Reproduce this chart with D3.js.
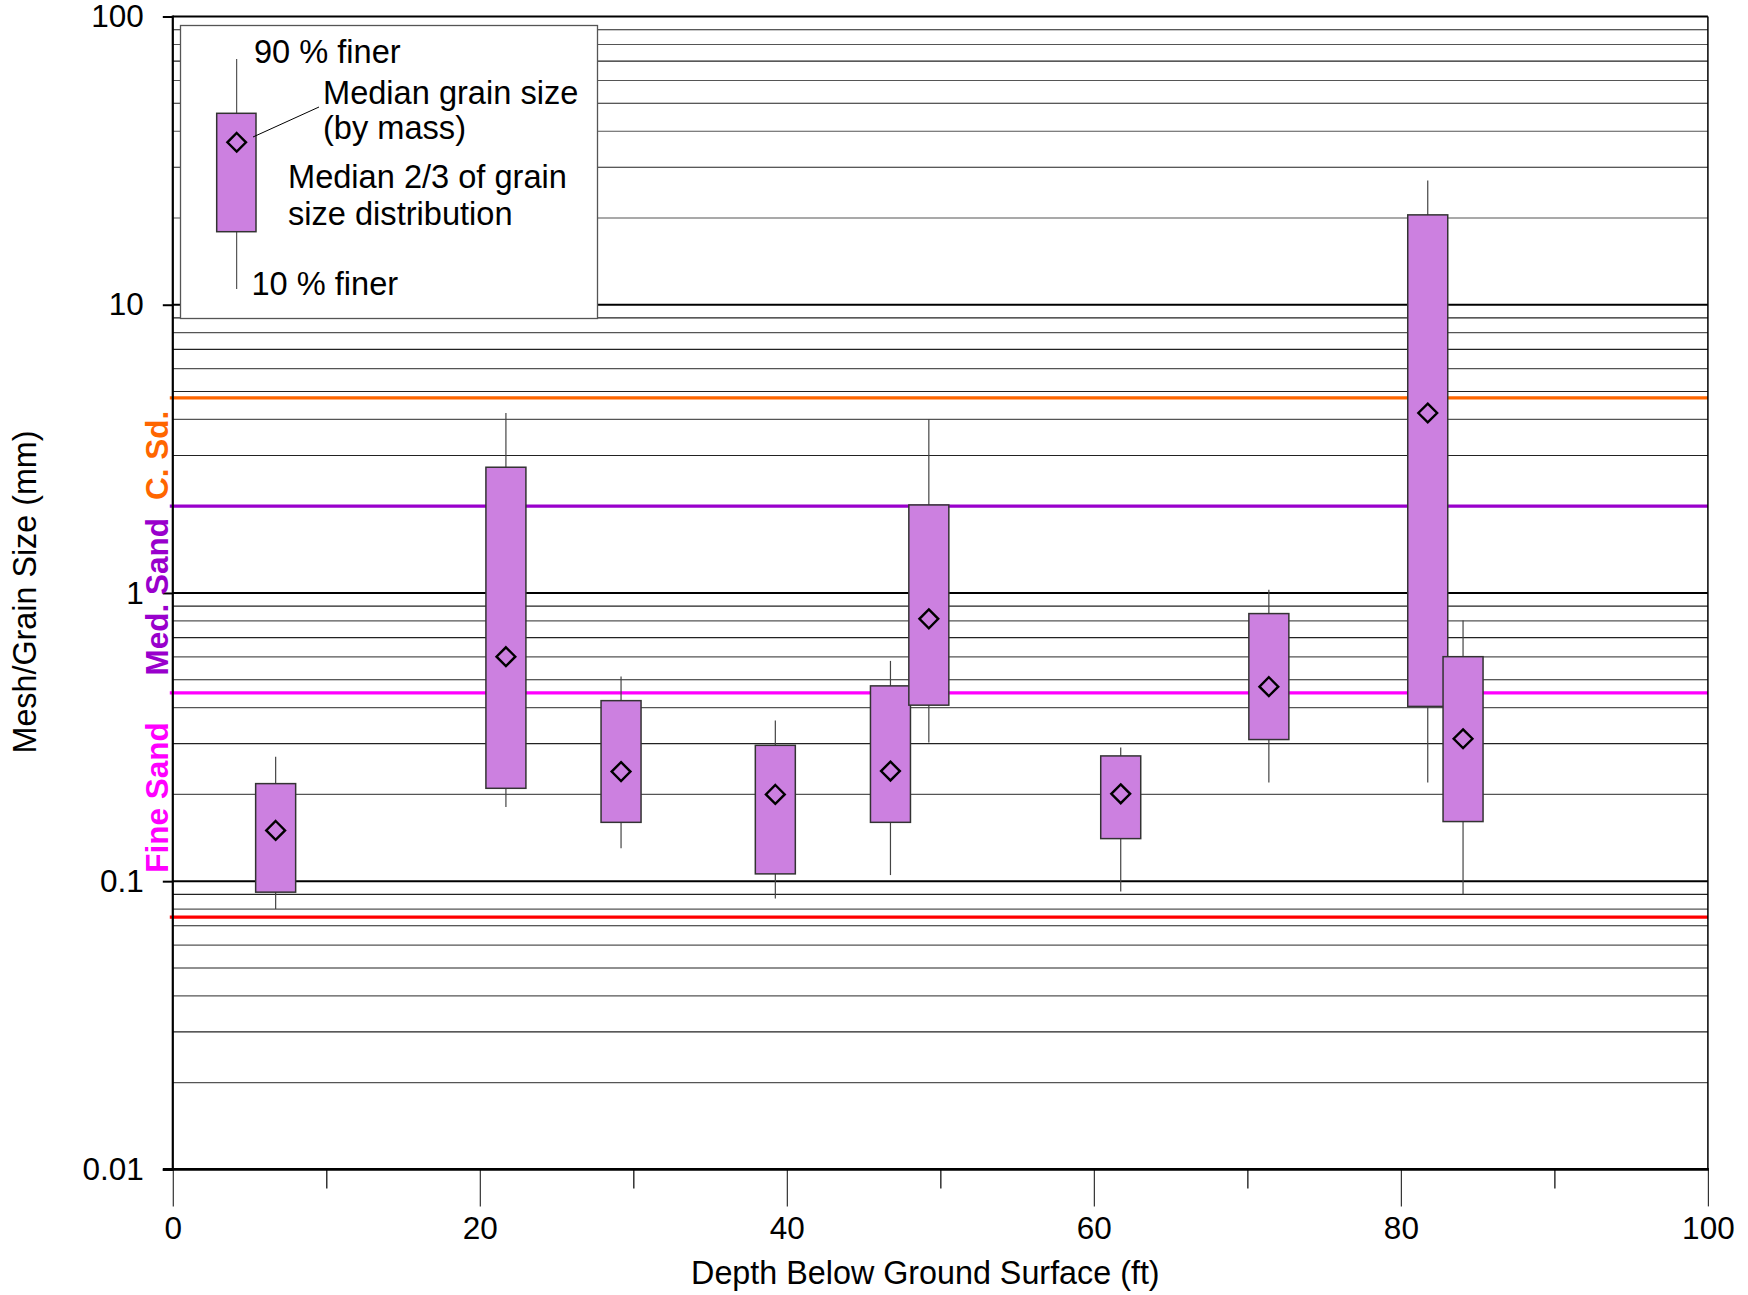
<!DOCTYPE html>
<html>
<head>
<meta charset="utf-8">
<script src="https://cdn.jsdelivr.net/npm/d3@7"></script>
<style>
  html, body { margin: 0; padding: 0; background: #fff; }
  svg { display: block; }
  text { font-family: "Liberation Sans", Arial, Helvetica, sans-serif; fill: #000; }
</style>
</head>
<body>
<svg id="chart" width="1748" height="1295"></svg>
<script>
// ---------------- data ----------------
const depthFt   = [6.7, 21.7, 29.2, 39.25, 46.75, 49.25, 61.75, 71.4, 81.75, 84.05];
const d10Finer  = [0.080, 0.181, 0.130, 0.087, 0.105, 0.303, 0.092, 0.220, 0.220, 0.090];
const boxLow    = [0.0916, 0.210, 0.160, 0.106, 0.160, 0.408, 0.1405, 0.310, 0.404, 0.161];
const median    = [0.150, 0.601, 0.240, 0.200, 0.241, 0.813, 0.201, 0.473, 4.21, 0.312];
const boxHigh   = [0.218, 2.73, 0.423, 0.296, 0.476, 2.02, 0.272, 0.848, 20.5, 0.601];
const d90Finer  = [0.270, 4.21, 0.513, 0.361, 0.581, 4.01, 0.291, 1.025, 27.0, 0.802];

const boundaryValues = [0.075, 0.45, 2.0, 4.75];
const sandLabels     = ["Fine Sand", "Med. Sand", "C. Sd."];
const sandLabelAt    = [0.195, 0.97, 3.0];

const xTickMajor = [0, 20, 40, 60, 80, 100];
const xTickMinor = [10, 30, 50, 70, 90];
const yTickValues = [0.01, 0.1, 1, 10, 100];
const yTickLabels = ["0.01", "0.1", "1", "10", "100"];

const xTitle = "Depth Below Ground Surface (ft)";
const yTitle = "Mesh/Grain Size (mm)";
const legendTexts = ["90 % finer", "Median grain size", "(by mass)", "Median 2/3 of grain", "size distribution", "10 % finer"];

// ---------------- styles ----------------
const boundaryColors = ["#FF0000", "#FF00FF", "#9900CC", "#FF6600"];
const labelColors = ["#FF00FF", "#9900CC", "#FF6600"];
const boxFill = "#CC80E0";

// ---------------- layout ----------------
const L = 172.8, R = 1707.9, T = 16.5, B = 1169.4;
const svg = d3.select("#chart");
svg.append("rect").attr("width", 1748).attr("height", 1295).attr("fill", "#fff");

const x = d3.scaleLinear().domain([0, 100]).range([L, R]);
const y = d3.scaleLog().domain([0.01, 100]).range([B, T]);

// minor gridlines
const minorVals = [];
for (let e = -2; e <= 1; e++) for (let m = 2; m <= 9; m++) minorVals.push(m * Math.pow(10, e));
svg.append("g").selectAll("line").data(minorVals).join("line")
  .attr("x1", L).attr("x2", R)
  .attr("y1", d => y(d)).attr("y2", d => y(d))
  .attr("stroke", (d, i) => i % 2 ? "#222" : "#555").attr("stroke-width", 1.1);

// major gridlines
svg.append("g").selectAll("line").data([0.1, 1, 10, 100]).join("line")
  .attr("x1", L).attr("x2", R)
  .attr("y1", d => y(d)).attr("y2", d => y(d))
  .attr("stroke", "#000").attr("stroke-width", 2);

// legend box
const lg = svg.append("g");
lg.append("rect").attr("x", 180.5).attr("y", 25.5).attr("width", 417).attr("height", 293)
  .attr("fill", "#fff").attr("stroke", "#555").attr("stroke-width", 1.3);
lg.append("line").attr("x1", 236.7).attr("x2", 236.7).attr("y1", 59).attr("y2", 289)
  .attr("stroke", "#333").attr("stroke-width", 1);
lg.append("rect").attr("x", 216.7).attr("y", 113.3).attr("width", 39.3).attr("height", 118.4)
  .attr("fill", boxFill).attr("stroke", "#333").attr("stroke-width", 1.5);
lg.append("path").attr("d", "M236.7,133 L246,142.3 L236.7,151.6 L227.4,142.3 Z")
  .attr("fill", "none").attr("stroke", "#000").attr("stroke-width", 2.4);
lg.append("line").attr("x1", 253).attr("y1", 137).attr("x2", 319).attr("y2", 107)
  .attr("stroke", "#000").attr("stroke-width", 1);
const legendPos = [[254, 63], [323, 104], [323, 139], [288, 188], [288, 225], [251.5, 295]];
lg.selectAll("text").data(legendTexts).join("text")
  .attr("x", (d, i) => legendPos[i][0]).attr("y", (d, i) => legendPos[i][1])
  .attr("font-size", 32.6).text(d => d);

// boundary lines
svg.append("g").selectAll("line").data(boundaryValues).join("line")
  .attr("x1", L - 3).attr("x2", R)
  .attr("y1", d => y(d)).attr("y2", d => y(d))
  .attr("stroke", (d, i) => boundaryColors[i]).attr("stroke-width", 3.2);

// box plots
const boxW = 40;
const rows = depthFt.map((d, i) => ({ depth: d, lo: d10Finer[i], q1: boxLow[i], med: median[i], q3: boxHigh[i], hi: d90Finer[i] }));
const gB = svg.append("g");
gB.selectAll("line.wh").data(rows).join("line").attr("class", "wh")
  .attr("x1", d => x(d.depth)).attr("x2", d => x(d.depth))
  .attr("y1", d => y(d.hi)).attr("y2", d => y(d.lo))
  .attr("stroke", "#444").attr("stroke-width", 1.2);
gB.selectAll("rect").data(rows).join("rect")
  .attr("x", d => x(d.depth) - boxW / 2).attr("width", boxW)
  .attr("y", d => y(d.q3)).attr("height", d => y(d.q1) - y(d.q3))
  .attr("fill", boxFill).attr("stroke", "#333").attr("stroke-width", 1.5);
const dm = 9.4;
gB.selectAll("path").data(rows).join("path")
  .attr("d", d => { const cx = x(d.depth), cy = y(d.med);
    return `M${cx},${cy - dm} L${cx + dm},${cy} L${cx},${cy + dm} L${cx - dm},${cy} Z`; })
  .attr("fill", "none").attr("stroke", "#000").attr("stroke-width", 2.4);

// axes
const yAxis = d3.axisLeft(y).tickValues(yTickValues).tickSize(10).tickPadding(19)
  .tickFormat((d, i) => yTickLabels[i]);
const gy = svg.append("g").attr("transform", `translate(${L},0)`).call(yAxis);
gy.select(".domain").remove();
gy.selectAll(".tick line").attr("stroke", "#000").attr("stroke-width", 2);
gy.selectAll(".tick text").attr("font-size", 31.5).attr("font-family", "Liberation Sans, Arial, sans-serif");

const xAxisMinor = d3.axisBottom(x).tickValues(xTickMinor).tickSize(19).tickFormat("");
const gxm = svg.append("g").attr("transform", `translate(0,${B})`).call(xAxisMinor);
gxm.select(".domain").remove();
gxm.selectAll(".tick line").attr("stroke", "#000").attr("stroke-width", 1.2);

const xAxisMajor = d3.axisBottom(x).tickValues(xTickMajor).tickSize(37).tickPadding(10).tickFormat(d3.format("d"));
const gx = svg.append("g").attr("transform", `translate(0,${B})`).call(xAxisMajor);
gx.select(".domain").remove();
gx.selectAll(".tick line").attr("stroke", "#333").attr("stroke-width", 1.2);
gx.selectAll(".tick text").attr("font-size", 31.5).attr("font-family", "Liberation Sans, Arial, sans-serif");

// frame lines
svg.append("line").attr("x1", L).attr("x2", L).attr("y1", T - 1).attr("y2", B + 1)
  .attr("stroke", "#000").attr("stroke-width", 2.2);
svg.append("line").attr("x1", L - 10).attr("x2", R + 1).attr("y1", B).attr("y2", B)
  .attr("stroke", "#000").attr("stroke-width", 2.6);
svg.append("line").attr("x1", R).attr("x2", R).attr("y1", T).attr("y2", B)
  .attr("stroke", "#000").attr("stroke-width", 1.5);

// sand labels
svg.append("g").selectAll("text").data(sandLabels).join("text")
  .attr("transform", (d, i) => `translate(168,${y(sandLabelAt[i])}) rotate(-90)`)
  .attr("text-anchor", "middle").attr("font-size", 31.5).attr("font-weight", "bold")
  .style("fill", (d, i) => labelColors[i]).text(d => d);

// titles
svg.append("text").attr("x", (L + R) / 2 - 15).attr("y", 1284).attr("text-anchor", "middle")
  .attr("font-size", 32.3).text(xTitle);
svg.append("text").attr("transform", `translate(36,592) rotate(-90)`).attr("text-anchor", "middle")
  .attr("font-size", 32.3).text(yTitle);
</script>
</body>
</html>
